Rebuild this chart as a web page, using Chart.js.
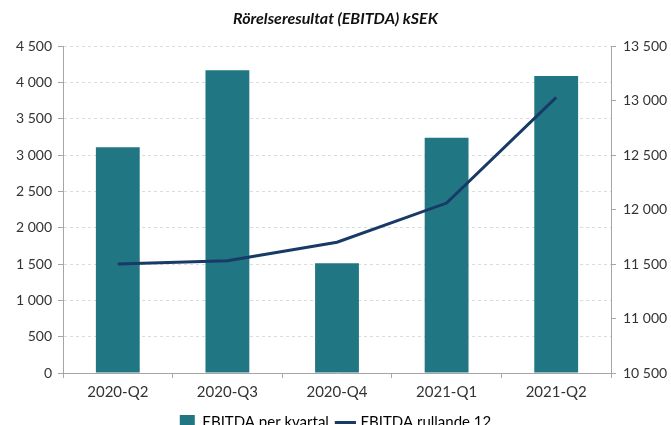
<!DOCTYPE html>
<html><head><meta charset="utf-8">
<script src="https://cdn.jsdelivr.net/npm/chart.js@4/dist/chart.umd.min.js"></script>
<style>html,body{margin:0;padding:0;background:#fff}#wrap{width:671px;height:425px}</style>
</head><body><div id="wrap"><canvas id="c" width="671" height="425"></canvas></div>
<script>
const categories = ["2020-Q2","2020-Q3","2020-Q4","2021-Q1","2021-Q2"];
const ebitdaQuarter = [3110, 4170, 1510, 3240, 4090];
const ebitdaRolling = [11500, 11530, 11700, 12060, 13030];
const titleText = "Rörelseresultat (EBITDA) kSEK";
const seriesNames = ["EBITDA per kvartal", "EBITDA rullande 12"];

const fmt = v => String(v).replace(/\B(?=(\d{3})+(?!\d))/g, "\u00a0");
const FONT = "Lato, 'Open Sans', sans-serif";
Chart.defaults.font.family = FONT;
Chart.defaults.color = "#333";

new Chart(document.getElementById("c"), {
  data: {
    labels: categories,
    datasets: [
      { type: "line", label: seriesNames[1], data: ebitdaRolling, yAxisID: "y1",
        borderColor: "#183a66", backgroundColor: "#183a66", borderWidth: 3,
        pointRadius: 0, tension: 0, order: 0 },
      { type: "bar", label: seriesNames[0], data: ebitdaQuarter, yAxisID: "y",
        backgroundColor: "#207683", borderColor: "#207683", borderWidth: 0,
        barPercentage: 0.8, categoryPercentage: 0.5, order: 1 }
    ]
  },
  options: {
    responsive: false, animation: false,
    layout: { padding: { top: 0, bottom: -15, left: 0, right: 0 } },
    plugins: {
      title: { display: true, text: titleText, font: { family: FONT, size: 16, style: "italic" },
        color: "#111", padding: { top: 9, bottom: 18 } },
      legend: { position: "bottom",
        labels: { usePointStyle: true, boxHeight: 15, padding: 9,
          font: { size: 15 }, color: "#333",
          generateLabels: (chart) => {
            const ds = chart.data.datasets;
            return [
              { text: ds[1].label, fillStyle: ds[1].backgroundColor, strokeStyle: ds[1].backgroundColor, lineWidth: 0, pointStyle: "rect", datasetIndex: 1 },
              { text: ds[0].label, fillStyle: ds[0].borderColor, strokeStyle: ds[0].borderColor, lineWidth: 3, pointStyle: "line", datasetIndex: 0 }
            ];
          } } },
      tooltip: { enabled: false }
    },
    scales: {
      x: { offset: true,
        grid: { offset: true, drawOnChartArea: false, tickLength: 5, tickColor: "#a6a6a6" },
        border: { color: "#a6a6a6", width: 1 },
        ticks: { font: { size: 15 }, color: "#333", padding: 5 } },
      y: { position: "left", min: 0, max: 4500,
        afterFit: s => { s.width = 63; },
        grid: { color: "#dcdcdc", tickColor: "#a6a6a6", tickLength: 5 },
        border: { color: "#a6a6a6", dash: [3, 3] },
        ticks: { stepSize: 500, font: { size: 14 }, color: "#333", padding: 6, callback: v => fmt(v) } },
      y1: { position: "right", min: 10500, max: 13500,
        afterFit: s => { s.width = 60; },
        grid: { drawOnChartArea: false, tickColor: "#a6a6a6", tickLength: 5 },
        border: { color: "#a6a6a6" },
        ticks: { stepSize: 500, font: { size: 14 }, color: "#333", padding: 7, callback: v => fmt(v) } }
    }
  }
});
</script></body></html>
